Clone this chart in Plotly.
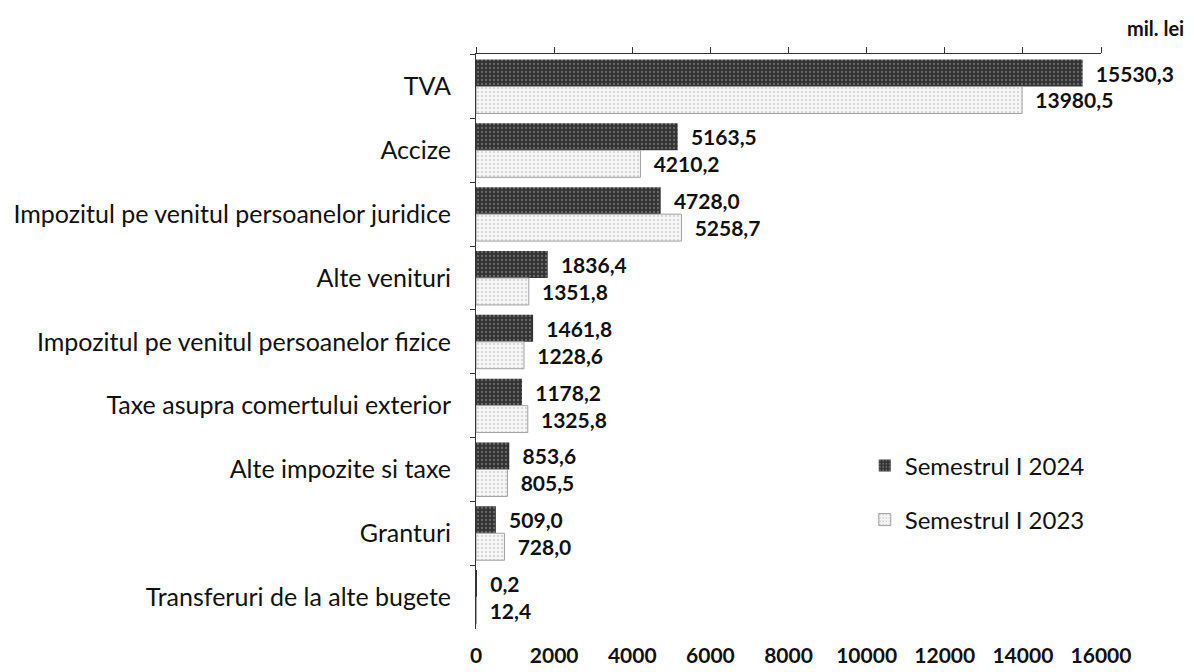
import plotly.graph_objects as go

categories = [
    "TVA",
    "Accize",
    "Impozitul pe venitul persoanelor juridice",
    "Alte venituri",
    "Impozitul pe venitul persoanelor fizice",
    "Taxe asupra comertului exterior",
    "Alte impozite si taxe",
    "Granturi",
    "Transferuri de la alte bugete",
]
values_2024 = [15530.3, 5163.5, 4728.0, 1836.4, 1461.8, 1178.2, 853.6, 509.0, 0.2]
values_2023 = [13980.5, 4210.2, 5258.7, 1351.8, 1228.6, 1325.8, 805.5, 728.0, 12.4]
series_names = ["Semestrul I 2024", "Semestrul I 2023"]
tick_values = [0, 2000, 4000, 6000, 8000, 10000, 12000, 14000, 16000]
unit_label = "mil. lei"


def fmt(v):
    return "\u00a0\u00a0" + f"{v:.1f}".replace(".", ",")


FONT = "Lato"
# the page body adds an 8px offset, so the figure is sized to fit the window
W, H = 1186, 664
L, R, T, B = 468, 93, 46, 43

fig = go.Figure()
fig.add_trace(go.Bar(
    y=categories, x=values_2024, orientation="h", name=series_names[0],
    legendgroup="a",
    marker=dict(color="#333333", line=dict(width=0),
                pattern=dict(shape=".", fgcolor="#a0a0a0", size=4, solidity=0.25)),
    text=[fmt(v) for v in values_2024], textposition="outside", cliponaxis=False,
    textfont=dict(family=FONT, size=21, color="#111", weight=700),
))
fig.add_trace(go.Bar(
    y=categories, x=values_2023, orientation="h", name=series_names[1],
    legendgroup="b",
    marker=dict(color="#f6f6f6", line=dict(width=1, color="#a0a0a0"),
                pattern=dict(shape=".", fgcolor="#a6a6a6", size=4, solidity=0.22)),
    text=[fmt(v) for v in values_2023], textposition="outside", cliponaxis=False,
    textfont=dict(family=FONT, size=21, color="#111", weight=700),
))
# invisible helper trace so the top axis is drawn
fig.add_trace(go.Scatter(
    x=[tick_values[0]], y=[categories[0]], xaxis="x2", mode="markers",
    marker=dict(opacity=0), showlegend=False, hoverinfo="skip",
))

fig.update_layout(
    width=W, height=H,
    margin=dict(l=L, r=R, t=T, b=B, autoexpand=False),
    paper_bgcolor="white", plot_bgcolor="white",
    barmode="group", bargap=0.155, bargroupgap=0,
    font=dict(family=FONT, size=20, color="#111"),
    xaxis=dict(
        range=[0, 16000], tickvals=tick_values,
        ticktext=[str(t) for t in tick_values], automargin=False,
        showgrid=False, zeroline=False, showline=False, ticks="",
        side="bottom", ticklabelstandoff=12,
        tickfont=dict(family=FONT, size=21, color="#111", weight=700),
    ),
    xaxis2=dict(
        range=[0, 16000], tickvals=tick_values, overlaying="x", side="top",
        matches="x", showgrid=False, zeroline=False, showline=True,
        linecolor="#333", linewidth=1, ticks="outside", ticklen=6,
        tickcolor="#333", showticklabels=False, automargin=False,
    ),
    yaxis=dict(
        autorange="reversed", showgrid=False, zeroline=False,
        showline=True, linecolor="#333", linewidth=1, automargin=False,
        ticks="outside", tickson="boundaries", ticklen=5, tickcolor="#333",
        ticklabelstandoff=19,
        tickfont=dict(family=FONT, size=25, color="#111"),
    ),
    legend=dict(
        x=0.622, y=0.323, xanchor="left", yanchor="top",
        font=dict(family=FONT, size=24, color="#111"),
        traceorder="grouped", tracegroupgap=20, bgcolor="rgba(0,0,0,0)",
    ),
    annotations=[dict(
        text=unit_label, xref="paper", yref="paper", x=1.136, y=1.045,
        xanchor="right", yanchor="middle", showarrow=False,
        font=dict(family=FONT, size=20, color="#111", weight=700),
    )],
)

fig.write_html("out.html")
